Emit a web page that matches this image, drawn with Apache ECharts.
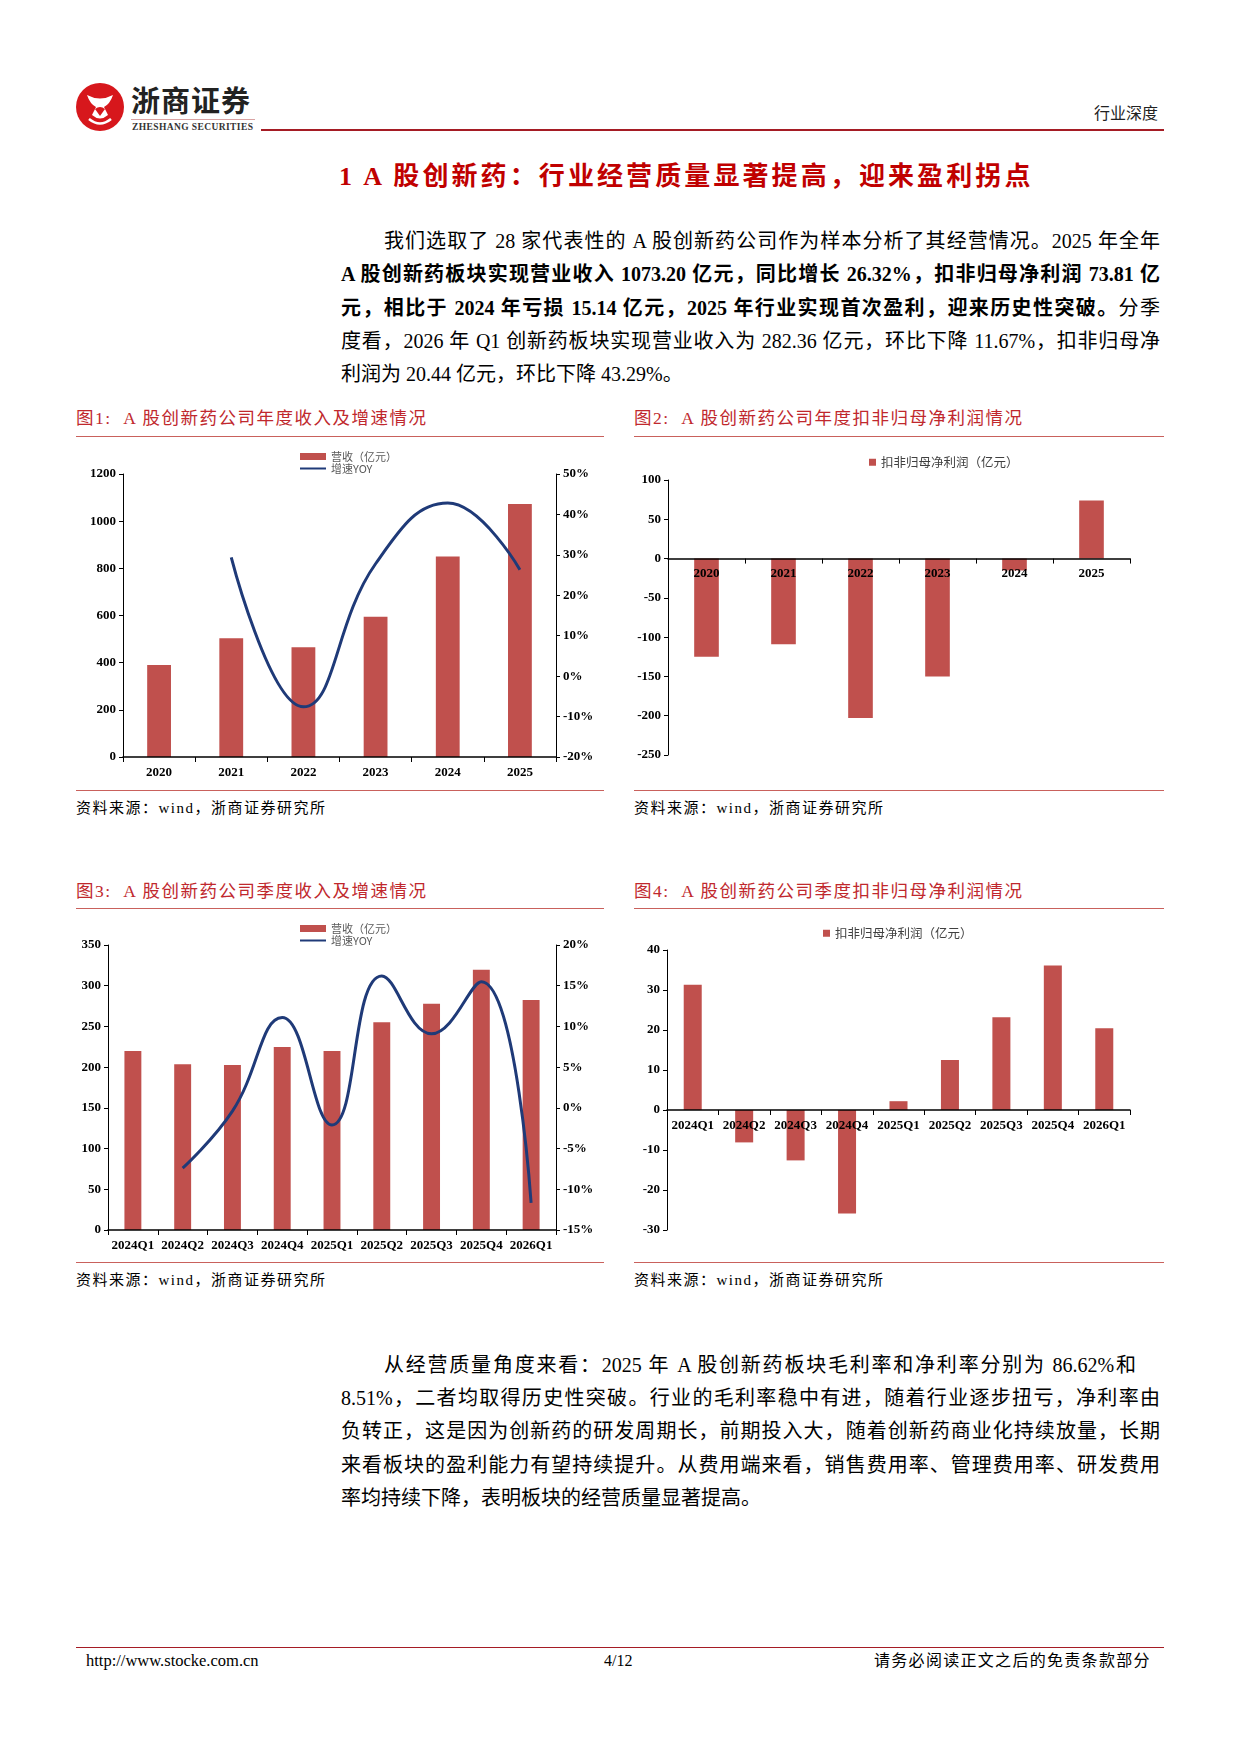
<!DOCTYPE html>
<html>
<head>
<meta charset="utf-8">
<script src="https://cdn.jsdelivr.net/npm/echarts@6/dist/echarts.min.js"></script>
<style>
  body { margin: 0; width: 1241px; height: 1754px; background: #fff; position: relative;
         font-family: "Liberation Serif", "Noto Sans CJK SC", serif; color: #000; }
  .abs { position: absolute; }
  .hline { position: absolute; height: 0; }
  .para { position: absolute; font-size: 20px; line-height: 34px; height: 34px; text-align: justify; text-align-last: justify; }
  .para.last { text-align: left; text-align-last: left; }
  .para b { font-weight: bold; }
  .ctitle { position: absolute; font-size: 17.5px; color: #c0282d; letter-spacing: 1.5px; line-height: 22px; }
  .src { position: absolute; font-size: 15px; letter-spacing: 1.5px; line-height: 20px; }
  .chart { position: absolute; }
</style>
</head>
<body>

<!-- header -->
<svg class="abs" style="left:75px;top:82px" width="50" height="50" viewBox="0 0 50 50">
  <circle cx="25" cy="25" r="24" fill="#d7171c"/>
  <path d="M12 13 Q25 20 38 13 Q35 22 29 25 L33 33 Q25 40 17 33 L21 25 Q15 22 12 13 Z" fill="#fff"/>
  <path d="M20 27 L25 34 L30 27 Q25 23 20 27 Z" fill="#d7171c"/>
  <path d="M14 37 Q25 46 36 37" stroke="#fff" stroke-width="2.5" fill="none"/>
</svg>
<div class="abs" style="left:131px;top:82px;font-family:'Noto Sans CJK SC';font-weight:bold;font-size:29px;line-height:34px;letter-spacing:1px;color:#222">浙商证券</div>
<div class="hline" style="left:131px;top:119px;width:124px;border-top:1.5px solid #d9a3a3"></div>
<div class="abs" style="left:132px;top:121px;font-size:9.5px;font-weight:bold;letter-spacing:0.4px;line-height:12px;color:#333">ZHESHANG SECURITIES</div>
<div class="hline" style="left:261px;top:129px;width:903px;border-top:2px solid #a51c24"></div>
<div class="abs" style="left:1094px;top:102px;font-size:16px;line-height:20px;font-family:'Noto Sans CJK SC';color:#222">行业深度</div>

<!-- section title -->
<div class="abs" style="left:339px;top:161px;font-size:26px;line-height:32px;font-weight:bold;color:#c00000;letter-spacing:3.1px">1 A 股创新药：行业经营质量显著提高，迎来盈利拐点</div>

<!-- paragraph 1 -->
<div class="para" style="left:384px;top:224px;width:776px">我们选取了 28 家代表性的 A 股创新药公司作为样本分析了其经营情况。2025 年全年</div>
<div class="para" style="left:341px;top:257px;width:819px"><b>A 股创新药板块实现营业收入 1073.20 亿元，同比增长 26.32%，扣非归母净利润 73.81 亿</b></div>
<div class="para" style="left:341px;top:291px;width:819px"><b>元，相比于 2024 年亏损 15.14 亿元，2025 年行业实现首次盈利，迎来历史性突破。</b>分季</div>
<div class="para" style="left:341px;top:324px;width:819px">度看，2026 年 Q1 创新药板块实现营业收入为 282.36 亿元，环比下降 11.67%，扣非归母净</div>
<div class="para last" style="left:341px;top:357px;width:819px">利润为 20.44 亿元，环比下降 43.29%。</div>

<!-- figure titles and rules -->
<div class="ctitle" style="left:76px;top:407px">图1:&nbsp; A 股创新药公司年度收入及增速情况</div>
<div class="hline" style="left:76px;top:436px;width:528px;border-top:1.5px solid #c9615c"></div>
<div class="ctitle" style="left:634px;top:407px">图2:&nbsp; A 股创新药公司年度扣非归母净利润情况</div>
<div class="hline" style="left:634px;top:436px;width:530px;border-top:1.5px solid #c9615c"></div>
<div class="hline" style="left:76px;top:790px;width:528px;border-top:1.5px solid #c9615c"></div>
<div class="hline" style="left:634px;top:790px;width:530px;border-top:1.5px solid #c9615c"></div>
<div class="src" style="left:76px;top:798px">资料来源：wind，浙商证券研究所</div>
<div class="src" style="left:634px;top:798px">资料来源：wind，浙商证券研究所</div>

<div class="ctitle" style="left:76px;top:880px">图3:&nbsp; A 股创新药公司季度收入及增速情况</div>
<div class="hline" style="left:76px;top:908px;width:528px;border-top:1.5px solid #c9615c"></div>
<div class="ctitle" style="left:634px;top:880px">图4:&nbsp; A 股创新药公司季度扣非归母净利润情况</div>
<div class="hline" style="left:634px;top:908px;width:530px;border-top:1.5px solid #c9615c"></div>
<div class="hline" style="left:76px;top:1262px;width:528px;border-top:1.5px solid #c9615c"></div>
<div class="hline" style="left:634px;top:1262px;width:530px;border-top:1.5px solid #c9615c"></div>
<div class="src" style="left:76px;top:1270px">资料来源：wind，浙商证券研究所</div>
<div class="src" style="left:634px;top:1270px">资料来源：wind，浙商证券研究所</div>

<!-- charts -->
<div id="chart_one" class="chart" style="left:76px;top:437px;width:528px;height:353px"></div>
<div id="chart_two" class="chart" style="left:634px;top:437px;width:530px;height:353px"></div>
<div id="chart_three" class="chart" style="left:76px;top:909px;width:528px;height:353px"></div>
<div id="chart_four" class="chart" style="left:634px;top:909px;width:530px;height:353px"></div>

<!-- paragraph 2 -->
<div class="para" style="left:384px;top:1348px;width:752px">从经营质量角度来看：2025 年 A 股创新药板块毛利率和净利率分别为 86.62%和</div>
<div class="para" style="left:341px;top:1381px;width:819px">8.51%，二者均取得历史性突破。行业的毛利率稳中有进，随着行业逐步扭亏，净利率由</div>
<div class="para" style="left:341px;top:1414px;width:819px">负转正，这是因为创新药的研发周期长，前期投入大，随着创新药商业化持续放量，长期</div>
<div class="para" style="left:341px;top:1448px;width:819px">来看板块的盈利能力有望持续提升。从费用端来看，销售费用率、管理费用率、研发费用</div>
<div class="para last" style="left:341px;top:1481px;width:819px">率均持续下降，表明板块的经营质量显著提高。</div>

<!-- footer -->
<div class="hline" style="left:76px;top:1647px;width:1088px;border-top:1.5px solid #a51c24"></div>
<div class="abs" style="left:86px;top:1651px;font-size:16.5px;line-height:20px">http://www.stocke.com.cn</div>
<div class="abs" style="left:604px;top:1651px;font-size:16px;line-height:20px">4/12</div>
<div class="abs" style="left:874px;top:1651px;font-size:16px;line-height:20px;letter-spacing:1.3px">请务必阅读正文之后的免责条款部分</div>

<script>
// ---- data ----
var years = ['2020', '2021', '2022', '2023', '2024', '2025'];
var revenue_year = [390, 504, 465, 595, 850, 1073.20];
var growth_year = [null, 29.4, -7.6, 27.8, 42.8, 26.32];
var profit_year = [-124.8, -109, -203, -150, -15.14, 73.81];

var quarters = ['2024Q1', '2024Q2', '2024Q3', '2024Q4', '2025Q1', '2025Q2', '2025Q3', '2025Q4', '2026Q1'];
var revenue_quarter = [219.7, 203.4, 202.5, 224.6, 219.7, 255.2, 278.0, 319.7, 282.36];
var growth_quarter = [null, -7.4, -0.4, 11.1, -2.1, 16.2, 9.1, 15.5, -11.67];
var profit_quarter = [31.3, -8.1, -12.6, -25.9, 2.2, 12.5, 23.2, 36.1, 20.44];

var bar_color = '#c0504d';
var line_color = '#1f3a78';
var label_style = { fontFamily: 'Liberation Serif', fontWeight: 'bold', fontSize: 13, color: '#000' };

function value_axis(min, max, interval, position, percent) {
  return {
    type: 'value', min: min, max: max, interval: interval, position: position,
    axisLine: { show: true, lineStyle: { color: '#000', width: 1 } },
    axisTick: { show: true, length: 4, lineStyle: { color: '#000' } },
    axisLabel: Object.assign({
      margin: 7,
      formatter: function (v) { return v + (percent ? '%' : ''); }
    }, label_style),
    splitLine: { show: false }
  };
}

// x axis drawn at the zero line of the left axis, labels right under it
function category_axis(data, y_min, y_max, grid_height) {
  var offset = y_min < 0 ? -grid_height * (0 - y_min) / (y_max - y_min) : 0;
  return {
    type: 'category', data: data, offset: offset,
    axisLine: { show: true, onZero: false, lineStyle: { color: '#000', width: 1.5 } },
    axisTick: { show: true, length: 5, lineStyle: { color: '#000' } },
    axisLabel: Object.assign({ margin: 9, interval: 0 }, label_style),
    z: 5
  };
}

function combo_option(cats, bars, line, grid, height, legend_pos, left_axis, right_axis, bar_width) {
  return {
    animation: false,
    legend: {
      left: legend_pos[0], top: legend_pos[1], orient: 'vertical', itemGap: 1,
      itemWidth: 26, itemHeight: 7,
      textStyle: { fontFamily: 'Noto Sans CJK SC', fontSize: 11, color: '#595959' },
      data: [
        { name: '营收（亿元）', icon: 'rect' },
        { name: '增速YOY', itemStyle: { color: 'rgba(0,0,0,0)', borderColor: 'rgba(0,0,0,0)', borderWidth: 0, opacity: 0 } }
      ]
    },
    grid: Object.assign({ containLabel: false, outerBoundsMode: 'none' }, grid),
    xAxis: category_axis(cats, left_axis.min, left_axis.max, height - grid.top - grid.bottom),
    yAxis: [left_axis, right_axis],
    series: [
      { name: '营收（亿元）', type: 'bar', data: bars, barWidth: bar_width, itemStyle: { color: bar_color } },
      { name: '增速YOY', type: 'line', yAxisIndex: 1, data: line, smooth: 0.45, symbol: 'none',
        lineStyle: { color: line_color, width: 3 }, itemStyle: { color: line_color } }
    ]
  };
}

function profit_option(cats, bars, grid, height, legend_pos, axis, bar_width) {
  return {
    animation: false,
    legend: {
      left: legend_pos[0], top: legend_pos[1], itemWidth: 7, itemHeight: 7, itemGap: 4,
      textStyle: { fontFamily: 'Noto Sans CJK SC', fontSize: 12.5, color: '#404040' },
      data: [{ name: '扣非归母净利润（亿元）', icon: 'rect' }]
    },
    grid: Object.assign({ containLabel: false, outerBoundsMode: 'none' }, grid),
    xAxis: category_axis(cats, axis.min, axis.max, height - grid.top - grid.bottom),
    yAxis: axis,
    series: [
      { name: '扣非归母净利润（亿元）', type: 'bar', data: bars, barWidth: bar_width, itemStyle: { color: bar_color } }
    ]
  };
}

var chart_one = echarts.init(document.getElementById('chart_one'));
chart_one.setOption(combo_option(years, revenue_year, growth_year,
  { left: 47, right: 48, top: 37, bottom: 33 }, 353, [218, 9],
  value_axis(0, 1200, 200, 'left'), value_axis(-20, 50, 10, 'right', true), '33%'));

var chart_two = echarts.init(document.getElementById('chart_two'));
chart_two.setOption(profit_option(years, profit_year,
  { left: 34, right: 34, top: 43, bottom: 35 }, 353, [230, 14],
  value_axis(-250, 100, 50, 'left'), '32%'));

var chart_three = echarts.init(document.getElementById('chart_three'));
chart_three.setOption(combo_option(quarters, revenue_quarter, growth_quarter,
  { left: 32, right: 48, top: 36, bottom: 32 }, 353, [218, 9],
  value_axis(0, 350, 50, 'left'), value_axis(-15, 20, 5, 'right', true), '34%'));

var chart_four = echarts.init(document.getElementById('chart_four'));
chart_four.setOption(profit_option(quarters, profit_quarter,
  { left: 33, right: 34, top: 41, bottom: 32 }, 353, [184, 13],
  value_axis(-30, 40, 10, 'left'), '35%'));
</script>
</body>
</html>
